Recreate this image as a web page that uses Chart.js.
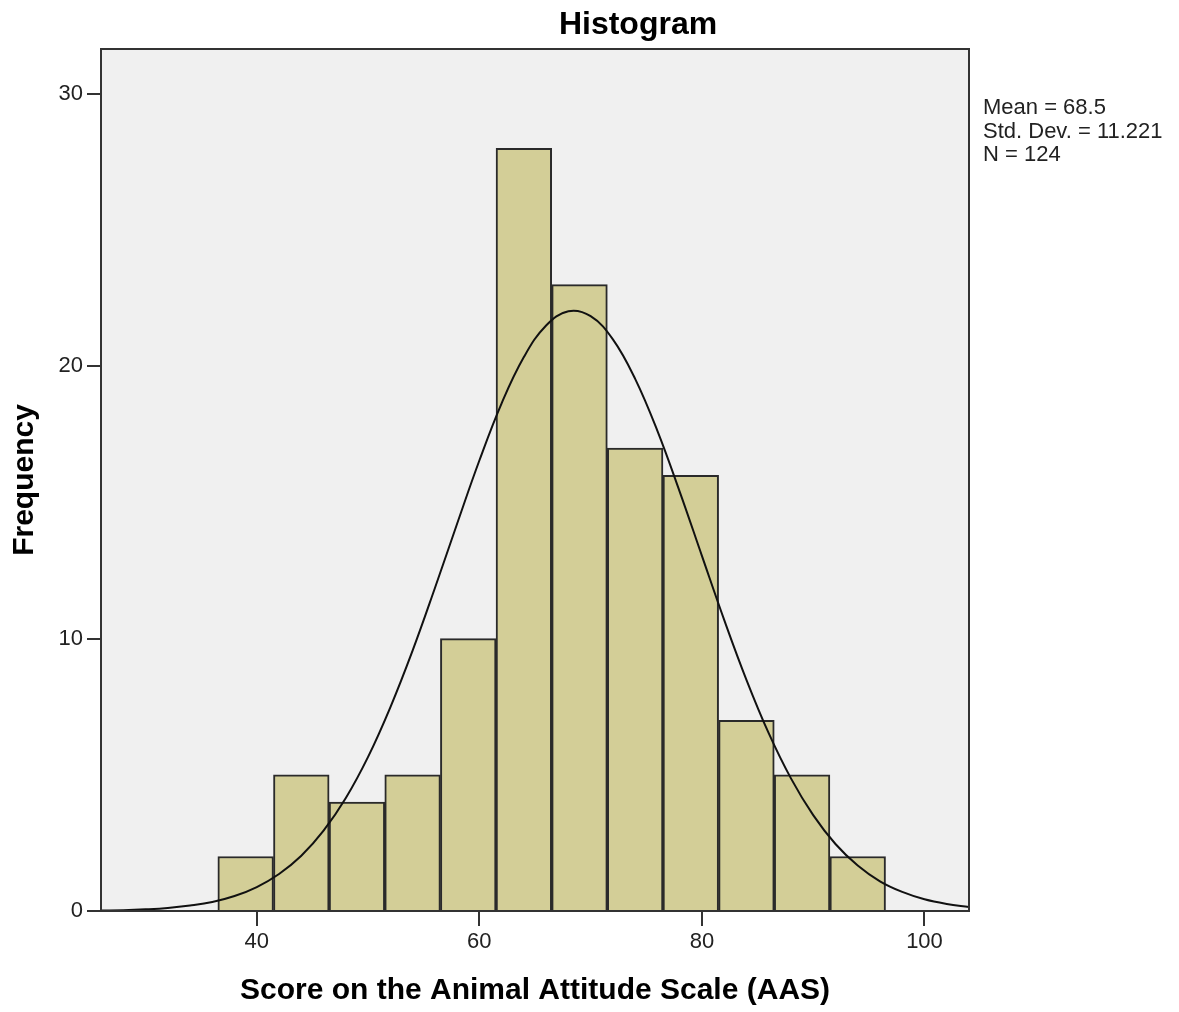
<!DOCTYPE html>
<html>
<head>
<meta charset="utf-8">
<script src="https://cdn.jsdelivr.net/npm/chart.js@4/dist/chart.umd.min.js"></script>
<style>
  html, body { margin: 0; padding: 0; background: #fff; }
  #wrap { width: 1179px; height: 1012px; }
</style>
</head>
<body>
<div id="wrap"><canvas id="myChart" width="1179" height="1012"></canvas></div>
<script>
// Adatok - histogram oszlopok (bin közepek, gyakoriság)
const binCenters = [39, 44, 49, 54, 59, 64, 69, 74, 79, 84, 89, 94];
const frequencies = [2, 5, 4, 5, 10, 28, 23, 17, 16, 7, 5, 2];

// Normál görbe pontjai
const curveX = [26, 28, 30, 32, 34, 36, 38, 40, 42, 44, 46, 48, 50, 52, 54, 56, 58, 60, 62, 64, 66, 68,
                70, 72, 74, 76, 78, 80, 82, 84, 86, 88, 90, 92, 94, 96, 98, 100, 102, 104];
const curveY = [0.02, 0.03, 0.06, 0.11, 0.2, 0.33, 0.55, 0.88, 1.36, 2.03, 2.95, 4.15, 5.66, 7.48, 9.56, 11.85, 14.22, 16.54, 18.64, 20.34, 21.5, 22.02,
                21.84, 20.99, 19.54, 17.63, 15.4, 13.04, 10.69, 8.49, 6.53, 4.87, 3.52, 2.46, 1.67, 1.09, 0.7, 0.43, 0.26, 0.15];

// Tengely feliratok
const xTicks = [40, 60, 80, 100];
const yTicks = [0, 10, 20, 30];
const statsLines = ['Mean = 68.5', 'Std. Dev. = 11.221', 'N = 124'];

const FONT = '"Liberation Sans", Arial, sans-serif';

// Háttér, keret, cím és statisztika rajzolása
const decorPlugin = {
    id: 'decor',
    beforeDatasetsDraw(chart) {
        const { ctx, chartArea: a } = chart;
        ctx.save();
        ctx.fillStyle = '#f0f0f0';
        ctx.fillRect(a.left, a.top, a.right - a.left, a.bottom - a.top);
        ctx.restore();
    },
    afterDraw(chart) {
        const { ctx, chartArea: a } = chart;
        ctx.save();
        ctx.strokeStyle = '#333';
        ctx.lineWidth = 2;
        ctx.strokeRect(a.left, a.top, a.right - a.left, a.bottom - a.top);

        ctx.fillStyle = '#000';
        ctx.font = 'bold 32px ' + FONT;
        ctx.textAlign = 'center';
        ctx.textBaseline = 'middle';
        ctx.fillText('Histogram', 638, 25);

        ctx.fillStyle = '#222';
        ctx.font = '22px ' + FONT;
        ctx.textAlign = 'left';
        statsLines.forEach((t, i) => ctx.fillText(t, a.right + 14, 108 + i * 23.5));
        ctx.restore();
    }
};

const ctx = document.getElementById('myChart').getContext('2d');
new Chart(ctx, {
    type: 'bar',
    data: {
        datasets: [
            {
                type: 'line',
                data: curveX.map((x, i) => ({ x: x, y: curveY[i] })),
                borderColor: '#111',
                borderWidth: 2,
                pointRadius: 0,
                tension: 0.4,
                fill: false,
                order: 1
            },
            {
                type: 'bar',
                data: binCenters.map((x, i) => ({ x: x, y: frequencies[i] })),
                backgroundColor: '#d3ce97',
                borderColor: '#2a2a2a',
                borderWidth: 2,
                barPercentage: 1,
                categoryPercentage: 1,
                order: 2
            }
        ]
    },
    plugins: [decorPlugin],
    options: {
        responsive: false,
        animation: false,
        layout: { padding: { left: 0, right: 210, top: 49, bottom: 0 } },
        plugins: { legend: { display: false }, tooltip: { enabled: false } },
        scales: {
            x: {
                type: 'linear',
                min: 26,
                max: 104,
                offset: false,
                afterFit(scale) { scale.height = 101; },
                afterBuildTicks(scale) { scale.ticks = xTicks.map(v => ({ value: v })); },
                grid: { offset: false, drawOnChartArea: false, drawTicks: true, tickLength: 15, color: '#333', lineWidth: 2 },
                border: { display: false },
                ticks: { padding: 3, color: '#222', font: { family: FONT, size: 22 }, maxRotation: 0 },
                title: {
                    display: true,
                    text: 'Score on the Animal Attitude Scale (AAS)',
                    color: '#000',
                    font: { family: FONT, size: 30, weight: 'bold' },
                    padding: { top: 0, bottom: 3 }
                }
            },
            y: {
                min: 0,
                max: 31.65,
                afterFit(scale) { scale.width = 101; },
                afterBuildTicks(scale) { scale.ticks = yTicks.map(v => ({ value: v })); },
                grid: { drawOnChartArea: false, drawTicks: true, tickLength: 14, color: '#333', lineWidth: 2 },
                border: { display: false },
                ticks: { padding: 4, color: '#222', font: { family: FONT, size: 22 } },
                title: {
                    display: true,
                    text: 'Frequency',
                    color: '#000',
                    font: { family: FONT, size: 30, weight: 'bold' },
                    padding: { top: 7, bottom: 0 }
                }
            }
        }
    }
});
</script>
</body>
</html>
